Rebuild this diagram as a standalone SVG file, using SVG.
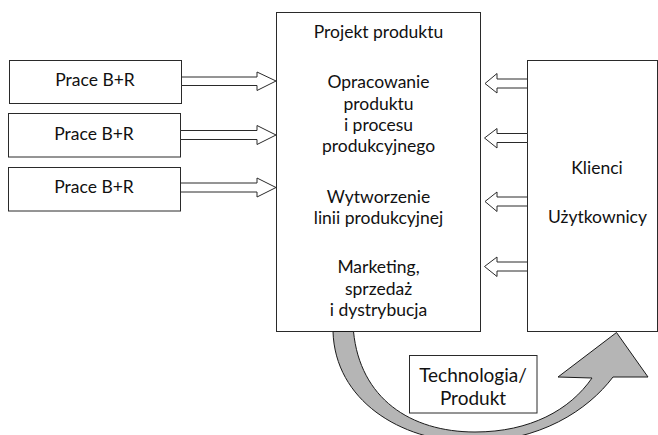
<svg xmlns="http://www.w3.org/2000/svg" width="658" height="435" viewBox="0 0 658 435">
  <style>
    .box { fill: #ffffff; stroke: #2a2a2a; stroke-width: 1; }
    .hollow { fill: #ffffff; stroke: #2a2a2a; stroke-width: 1; stroke-linejoin: miter; }
    .flow { fill: #b5b5b5; stroke: #1a1a1a; stroke-width: 1; stroke-linejoin: miter; }
    text { font-family: Lato, "Open Sans", sans-serif; font-size: 17.5px; fill: #111111; text-anchor: middle; }
    .big { font-size: 19px; }
  </style>

  <rect width="658" height="435" fill="#ffffff"/>

  <!-- Research units -->
  <g id="prace1">
    <rect class="box" x="9.5" y="60.5" width="172" height="43"/>
    <text x="95" y="86">Prace B+R</text>
  </g>
  <g id="prace2">
    <rect class="box" x="8.5" y="113.5" width="172" height="43.5"/>
    <text x="94" y="139.5">Prace B+R</text>
  </g>
  <g id="prace3">
    <rect class="box" x="8.5" y="167.5" width="172" height="43.5"/>
    <text x="94" y="193">Prace B+R</text>
  </g>

  <!-- Central process block -->
  <g id="proces">
    <rect class="box" x="276.5" y="12.5" width="204" height="319"/>
    <text x="378.5" y="37.5">Projekt produktu</text>
    <text x="378.5" y="88">Opracowanie</text>
    <text x="378.5" y="109.5">produktu</text>
    <text x="378.5" y="131">i procesu</text>
    <text x="378.5" y="152">produkcyjnego</text>
    <text x="378.5" y="203">Wytworzenie</text>
    <text x="378.5" y="224">linii produkcyjnej</text>
    <text x="378.5" y="273">Marketing,</text>
    <text x="378.5" y="295">sprzedaż</text>
    <text x="378.5" y="316">i dystrybucja</text>
  </g>

  <!-- Customers -->
  <g id="klienci">
    <rect class="box" x="527.5" y="60.5" width="130" height="271"/>
    <text x="597" y="174">Klienci</text>
    <text x="597.5" y="222.5">Użytkownicy</text>
  </g>

  <!-- Connectors -->
  <g id="connectors">
    <!-- hollow arrows into the process block -->
    <polygon class="hollow" points="181.5,77 257,77 257,72 276,81 257,90.5 257,85.5 181.5,85.5"/>
    <polygon class="hollow" points="180.5,130.5 257,130.5 257,125.5 276,135 257,144.5 257,139.5 180.5,139.5"/>
    <polygon class="hollow" points="180.5,183 257,183 257,178 276,187.5 257,197 257,192 180.5,192"/>

    <!-- hollow arrows from customers -->
    <polygon class="hollow" points="527.5,79 497,79 497,73.5 485,83.5 497,93 497,88 527.5,88"/>
    <polygon class="hollow" points="527.5,133.5 497,133.5 497,128.5 484.5,138 497,148 497,142.5 527.5,142.5"/>
    <polygon class="hollow" points="527.5,197 497,197 497,192 485,201.5 497,211.5 497,206 527.5,206"/>
    <polygon class="hollow" points="527.5,262 497,262 497,257 484.5,266.5 497,276.5 497,271 527.5,271"/>

    <!-- curved product flow arrow -->
    <path class="flow" d="M333,331.5 C335,400 400,441 470,442 C540,442 588,410 613,377 L648,377 L616.5,332.5 L558,377 L592,378 C570,410 530,432 475,432 C410,432 360,398 353.5,331.5 Z"/>
  </g>

  <!-- Technology / product label -->
  <g id="technologia">
    <rect class="box" x="409.5" y="355.5" width="127.5" height="57.5"/>
    <text class="big" x="473" y="381.5">Technologia/</text>
    <text class="big" x="473" y="405">Produkt</text>
  </g>
</svg>
